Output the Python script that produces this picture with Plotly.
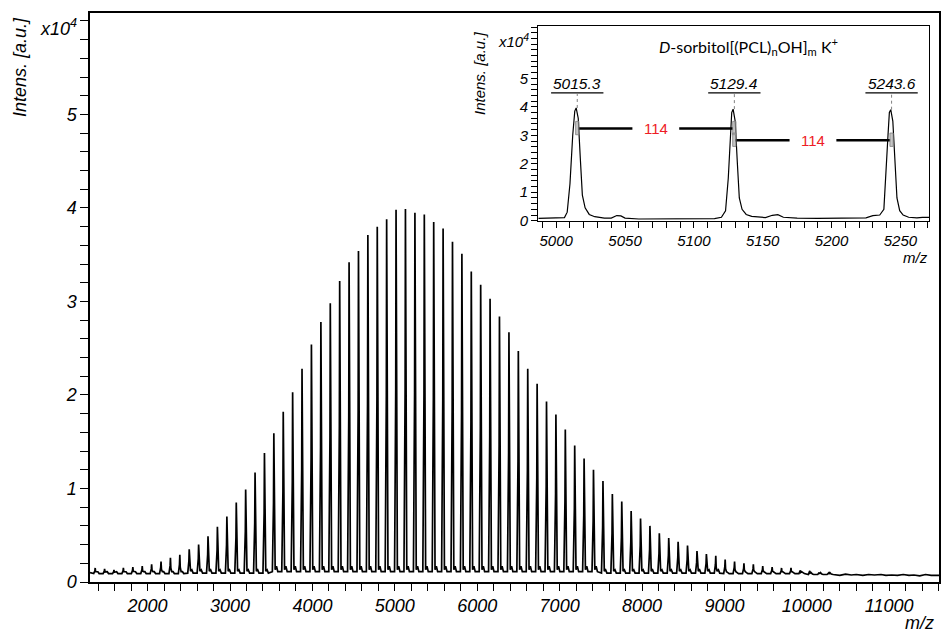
import plotly.graph_objects as go

# ---------------- data ----------------
# main MALDI spectrum: apex m/z of the (PCL) series and apex intensity (x10^4 a.u.)
peak_mz = [1364, 1478, 1592, 1706, 1821, 1935, 2049, 2163, 2277, 2391,
           2505, 2619, 2733, 2847, 2962, 3076, 3190, 3304, 3418, 3532,
           3646, 3760, 3874, 3988, 4103, 4217, 4331, 4445, 4559, 4673,
           4787, 4901, 5015, 5129, 5244, 5358, 5472, 5586, 5700, 5814,
           5928, 6042, 6156, 6270, 6385, 6499, 6613, 6727, 6841, 6955,
           7069, 7183, 7297, 7411, 7526, 7640, 7754, 7868, 7982, 8096,
           8210, 8324, 8438, 8552, 8667, 8781, 8895, 9009, 9123, 9237,
           9351, 9465, 9579, 9693, 9808, 9922, 10036, 10150, 10264]
peak_int = [0.15, 0.14, 0.13, 0.15, 0.16, 0.17, 0.19, 0.22, 0.26, 0.29,
            0.35, 0.40, 0.49, 0.59, 0.70, 0.85, 0.99, 1.17, 1.38, 1.59,
            1.82, 2.03, 2.28, 2.54, 2.78, 2.98, 3.22, 3.42, 3.54, 3.71,
            3.80, 3.88, 3.98, 3.99, 3.95, 3.93, 3.85, 3.78, 3.64, 3.51,
            3.32, 3.18, 3.03, 2.84, 2.67, 2.47, 2.28, 2.12, 1.93, 1.79,
            1.63, 1.46, 1.32, 1.20, 1.08, 0.94, 0.86, 0.76, 0.68, 0.60,
            0.52, 0.47, 0.43, 0.39, 0.33, 0.30, 0.28, 0.24, 0.22, 0.20,
            0.19, 0.17, 0.16, 0.15, 0.15, 0.125, 0.12, 0.10, 0.096]
# baseline level and small satellite level by m/z region
region_start = [0, 2500, 3500, 7500, 9000, 10000]
base_level = [0.09, 0.095, 0.11, 0.095, 0.09, 0.08]
sat_level = [0.11, 0.13, 0.17, 0.13, 0.10, 0.085]
# noisy baseline after the last peak
tail_mz = [10320, 10400, 10470, 10540, 10600, 10680, 10750, 10820, 10900, 10960,
           11030, 11100, 11170, 11240, 11300, 11370, 11440, 11510, 11580, 11604]
tail_int = [0.08, 0.07, 0.085, 0.075, 0.08, 0.07, 0.08, 0.075, 0.08, 0.07,
            0.075, 0.07, 0.08, 0.07, 0.075, 0.065, 0.08, 0.07, 0.075, 0.07]
start_mz, start_int = 1301, 0.10

# inset: zoom on three consecutive peaks
inset_mz = [4987, 4995, 5000, 5006, 5008, 5010, 5012, 5013.5, 5014.5, 5016,
            5017.5, 5019, 5021, 5024, 5028, 5035, 5040, 5044, 5047, 5050,
            5060, 5080, 5100, 5115, 5120, 5123, 5125, 5126.5, 5127.5, 5128.5,
            5130, 5131.5, 5133, 5135, 5138, 5142, 5148, 5152, 5157, 5161,
            5165, 5175, 5190, 5210, 5225, 5230, 5235, 5238, 5239.5, 5241,
            5242, 5243, 5244.5, 5246, 5247.5, 5249.5, 5252, 5256, 5262, 5266, 5271]
inset_int = [0.08, 0.09, 0.10, 0.11, 0.30, 1.3, 3.0, 3.85, 3.96, 3.6,
             2.2, 0.9, 0.45, 0.22, 0.14, 0.09, 0.09, 0.18, 0.17, 0.09,
             0.06, 0.06, 0.06, 0.07, 0.12, 0.35, 1.5, 3.0, 3.8, 3.92,
             3.5, 2.1, 0.8, 0.4, 0.22, 0.15, 0.12, 0.11, 0.19, 0.21,
             0.12, 0.09, 0.08, 0.08, 0.10, 0.18, 0.20, 0.40, 1.5, 3.0,
             3.8, 3.9, 3.5, 2.1, 0.8, 0.35, 0.2, 0.12, 0.10, 0.12, 0.12]
label_mz = [5015.3, 5129.4, 5243.6]
label_text = ["5015.3", "5129.4", "5243.6"]
label_top = [3.96, 3.92, 3.90]
delta_text = ["114", "114"]
delta_level = [3.24, 2.83]
y_labels = ["0", "1", "2", "3", "4", "5"]

# ---------------- build the main line ----------------
PEAK_DX = [-18, -4, 0, 5, 16, 32, 48]


def region_value(m, levels):
    v = levels[0]
    for s, lv in zip(region_start, levels):
        if m >= s:
            v = lv
    return v


xs, ys = [start_mz], [start_int]
for m, h in zip(peak_mz, peak_int):
    b = region_value(m, base_level)
    s = region_value(m, sat_level)
    prof = [b, b + 0.5 * (h - b), h, b + 0.35 * (h - b), b + 0.02, s, b]
    xs += [m + d for d in PEAK_DX]
    ys += prof
xs += tail_mz
ys += tail_int

W, H = 941, 633
L, R, T, B = 90, 2, 13, 51


def px(x):
    return (x - L) / (W - L - R)


def py(y):
    return (H - B - y) / (H - T - B)


def tick_setup(n_steps, step=0.2):
    vals, texts = [], []
    for i in range(n_steps + 1):
        v = round(i * step, 2)
        vals.append(v)
        if i % 5 == 0 and i // 5 < len(y_labels):
            texts.append(y_labels[i // 5])
        else:
            texts.append("")
    return vals, texts


main_tv, main_tt = tick_setup(30)
inset_tv, inset_tt = tick_setup(34)

FONT = "Liberation Sans"

fig = go.Figure()
fig.add_trace(go.Scatter(x=xs, y=ys, mode="lines",
                         line=dict(color="black", width=1.7),
                         hoverinfo="skip", showlegend=False))
fig.add_trace(go.Scatter(x=inset_mz, y=inset_int, mode="lines",
                         line=dict(color="black", width=1.2),
                         xaxis="x2", yaxis="y2",
                         hoverinfo="skip", showlegend=False))

fig.update_layout(
    width=W, height=H,
    margin=dict(l=L, r=R, t=T, b=B, autoexpand=False),
    paper_bgcolor="white", plot_bgcolor="white",
    showlegend=False, hovermode=False,
    font=dict(family=FONT, color="black"),
    xaxis=dict(range=[1301, 11604], domain=[0, 1], showgrid=False, zeroline=False,
               automargin=False,
               showline=True, linecolor="black", linewidth=1.5, mirror=True,
               ticks="outside", ticklen=7, tickwidth=1.3, tickcolor="black",
               tickmode="linear", tick0=0, dtick=1000, tickformat="d",
               tickfont=dict(family=FONT, size=18, style="italic"),
               minor=dict(ticks="outside", ticklen=7, tickwidth=1.3, tickcolor="black",
                          dtick=200, tick0=0, showgrid=False)),
    yaxis=dict(range=[0, 6.085], domain=[0, 1], showgrid=False, zeroline=False,
               automargin=False,
               showline=True, linecolor="black", linewidth=1.5, mirror=True,
               ticks="outside", ticklen=8, tickwidth=1.3, tickcolor="black",
               tickmode="array", tickvals=main_tv, ticktext=main_tt,
               tickfont=dict(family=FONT, size=18, style="italic")),
    xaxis2=dict(range=[4987, 5271], domain=[px(538.3), px(929.3)], anchor="y2",
                showgrid=False, zeroline=False, automargin=False,
                showline=True, linecolor="black", linewidth=1.2, mirror=True,
                ticks="outside", ticklen=6, tickwidth=1.1, tickcolor="black",
                tickmode="linear", tick0=5000, dtick=50, tickformat="d",
                tickfont=dict(family=FONT, size=15, style="italic"),
                minor=dict(ticks="outside", ticklen=6, tickwidth=1.1, tickcolor="black",
                           dtick=10, tick0=5000, showgrid=False)),
    yaxis2=dict(range=[0, 6.84], domain=[py(220.7), py(26)], anchor="x2",
                showgrid=False, zeroline=False, automargin=False,
                showline=True, linecolor="black", linewidth=1.2, mirror=True,
                ticks="outside", ticklen=6, tickwidth=1.1, tickcolor="black",
                tickmode="array", tickvals=inset_tv, ticktext=inset_tt,
                tickfont=dict(family=FONT, size=15, style="italic")),
)


def paper_text(x, y, text, size, angle=0, family=FONT, italic=True):
    return dict(x=px(x), y=py(y), xref="paper", yref="paper", text=text,
                xanchor="center", yanchor="middle", textangle=angle, showarrow=False,
                font=dict(family=family, size=size, style="italic" if italic else "normal"))


ann = [
    paper_text(20, 67, "Intens. [a.u.]", 18, angle=-90),
    paper_text(58, 27, "x10<sup>4</sup>", 18),
    paper_text(919, 623, "m/z", 18),
    paper_text(479, 74, "Intens. [a.u.]", 15, angle=-90),
    paper_text(513, 41, "x10<sup>4</sup>", 15),
    paper_text(915, 257, "m/z", 15),
    paper_text(748, 46, "<i>D</i>-sorbitol[(PCL)<sub>n</sub>OH]<sub>m</sub> K<sup>+</sup>",
               16, family="Lato", italic=False),
]

shapes = []
for m, t, top in zip(label_mz, label_text, label_top):
    ann.append(dict(x=m, y=4.83, xref="x2", yref="y2", text=t, showarrow=False,
                    xanchor="center", yanchor="middle",
                    font=dict(size=15.5, style="italic")))
    shapes.append(dict(type="line", xref="x2", yref="y2", x0=m - 19, x1=m + 19,
                       y0=4.49, y1=4.49, line=dict(color="black", width=1.2)))
    shapes.append(dict(type="line", xref="x2", yref="y2", x0=m, x1=m,
                       y0=top, y1=4.49, line=dict(color="gray", width=1, dash="dot")))

for i, (t, lv) in enumerate(zip(delta_text, delta_level)):
    a, b = label_mz[i], label_mz[i + 1]
    mid = (a + b) / 2
    ann.append(dict(x=mid, y=lv, xref="x2", yref="y2", text=t, showarrow=False,
                    xanchor="center", yanchor="middle",
                    font=dict(size=15, color="#ee1c25")))
    shapes.append(dict(type="line", xref="x2", yref="y2", x0=a + 0.5, x1=mid - 17,
                       y0=lv, y1=lv, line=dict(color="black", width=2.5)))
    shapes.append(dict(type="line", xref="x2", yref="y2", x0=mid + 17, x1=b - 1,
                       y0=lv, y1=lv, line=dict(color="black", width=2.5)))
    shapes.append(dict(type="rect", xref="x2", yref="y2", x0=a - 1.2, x1=a + 1.2,
                       y0=lv - 0.22, y1=lv + 0.25, line=dict(color="gray", width=0.8),
                       fillcolor="rgba(160,160,160,0.6)"))
    shapes.append(dict(type="rect", xref="x2", yref="y2", x0=b - 1.2, x1=b + 1.2,
                       y0=lv - 0.22, y1=lv + 0.25, line=dict(color="gray", width=0.8),
                       fillcolor="rgba(160,160,160,0.6)"))

fig.update_layout(annotations=ann, shapes=shapes)
fig.write_html("out.html", config={"displayModeBar": False},
               post_script="document.body.style.margin='0';document.body.style.padding='0';")
